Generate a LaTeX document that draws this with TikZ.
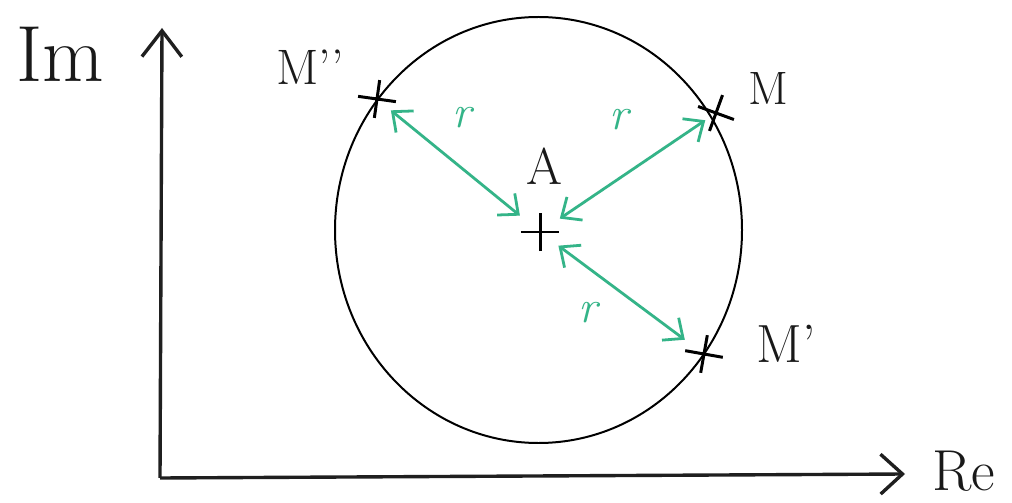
\documentclass[tikz,border=0pt]{standalone}
\usepackage{fontspec}
\usetikzlibrary{arrows.meta,shapes.misc}
\definecolor{grn}{RGB}{52,180,136}
\tikzset{
  axisline/.style={line width=3.4pt, black!88},
  circline/.style={line width=2pt, black},
  radarrow/.style={line width=2.8pt, grn, {Straight Barb[length=16pt,width=28pt]}-{Straight Barb[length=16pt,width=28pt]}},
  pluscross/.style={draw, cross out, rotate=45, minimum size=24bp, inner sep=0pt, line width=3pt, black},
  lbl/.style={inner sep=0pt, anchor=base, text=black!90},
  rlbl/.style={inner sep=0pt, text=grn, font=\fontsize{46}{46}\selectfont\itshape}
}
\begin{document}
\begin{tikzpicture}[x=1bp,y=-1bp]
\useasboundingbox (0,0) rectangle (1012,503);
\fill[white] (0,0) rectangle (1012,503);
% axes
\coordinate (O) at (160,478);
\coordinate (ytip) at (162,28);
\coordinate (xtip) at (905,474);
\draw[axisline, -{Straight Barb[length=26pt,width=40pt]}] (O) -- (ytip);
\draw[axisline, -{Straight Barb[length=22pt,width=40pt]}] (O) -- (xtip);
\node[lbl, font=\fontsize{80}{80}\selectfont] (Im) at (60,82) {Im};
\node[lbl, font=\fontsize{58}{58}\selectfont] (Re) at (964,490) {Re};
% circle
\coordinate (C) at (538.5,230);
\draw[circline] (C) ellipse [x radius=203.5bp, y radius=213bp];
% points
\node[pluscross] (A) at (540,232) {};
\node[pluscross, rotate=-8] (Mpp) at (377,99) {};
\node[pluscross, rotate=-20] (M) at (716,113) {};
\node[pluscross, rotate=-10] (Mp) at (704,354) {};
\node[lbl, font=\fontsize{52}{52}\selectfont] (Alab) at (544,185) {A};
\node[lbl, font=\fontsize{50}{50}\selectfont] (Mpplab) at (310,85) {M'{}'};
\node[lbl, font=\fontsize{47}{47}\selectfont] (Mlab) at (768,105) {M};
\node[lbl, font=\fontsize{54}{54}\selectfont] (Mplab) at (786,363) {M'};
% radii
\draw[radarrow, shorten <=26pt, shorten >=18pt] (A.center) -- (Mpp.center);
\draw[radarrow, shorten <=24pt, shorten >=13pt] (A.center) -- (M.center);
\draw[radarrow, shorten <=23pt, shorten >=24pt] (A.center) -- (Mp.center);
\node[rlbl] (r1) at (462,118) {r};
\node[rlbl] (r2) at (619,120) {r};
\node[rlbl] (r3) at (588,313) {r};
\end{tikzpicture}
\end{document}
